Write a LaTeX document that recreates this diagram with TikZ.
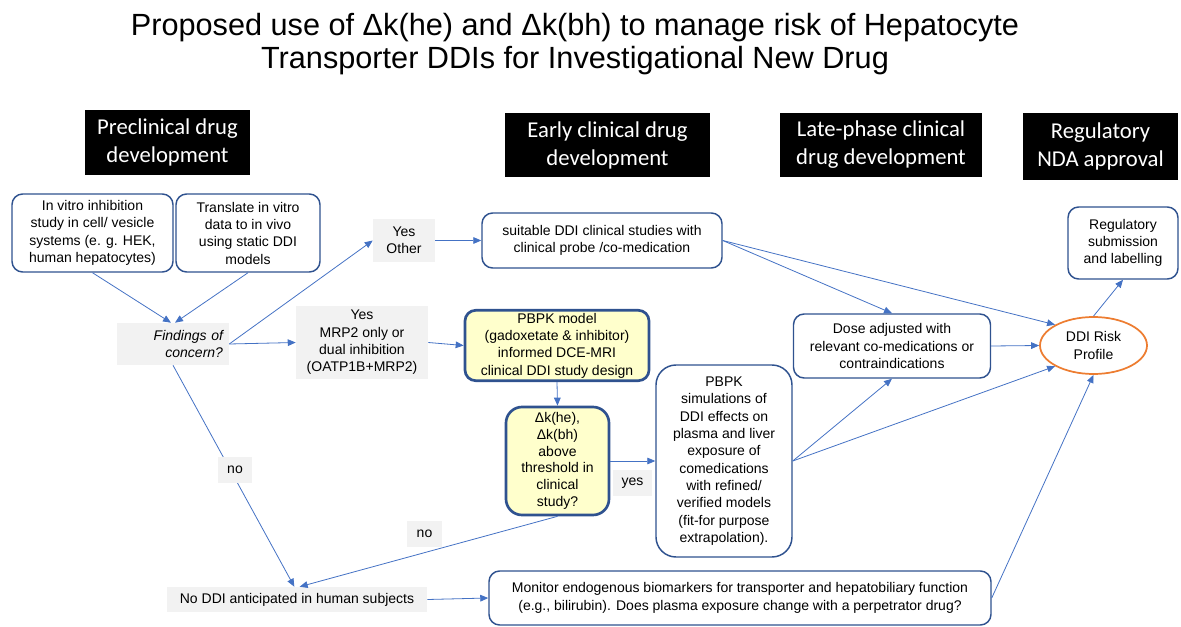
\documentclass[tikz,border=0pt]{standalone}
\usepackage{fontspec}
\setmainfont{Liberation Sans}
\newfontfamily\hdrfont{Carlito}
\usepackage{tikz}
\usetikzlibrary{arrows.meta, shapes.geometric}
\definecolor{boxblue}{RGB}{47,82,143}
\definecolor{linkblue}{RGB}{68,114,196}
\definecolor{notegray}{RGB}{242,242,242}
\definecolor{paleyellow}{RGB}{255,255,204}
\definecolor{riskorange}{RGB}{237,125,49}
\tikzset{
    box/.style={rectangle, rounded corners=8pt, draw=boxblue, line width=1.1pt, fill=white, align=center, inner sep=2pt, font=\fontsize{10.5}{13}\selectfont},
    keybox/.style={box, fill=paleyellow, line width=2pt},
    note/.style={rectangle, fill=notegray, align=center, inner sep=2pt, font=\fontsize{10.5}{13}\selectfont},
    phase/.style={rectangle, fill=black, text=white, align=center, inner sep=2pt, font=\hdrfont\fontsize{17}{21}\selectfont},
    arrow/.style={draw=linkblue, line width=0.6pt, -{Triangle[length=6pt, width=5pt]}}
}

\begin{document}
\begin{tikzpicture}[
    x=0.75pt, y=-0.75pt,
    risk/.style={ellipse, draw=riskorange, line width=1.3pt, fill=white, align=center, inner sep=0pt, font=\fontsize{10.5}{13}\selectfont}
]
    \useasboundingbox (0,0) rectangle (1181,627);

    % Title
    \node[align=center, font=\fontsize{23}{25}\selectfont] (title) at (575,44) {Proposed use of Δk(he) and Δk(bh) to manage risk of Hepatocyte\\Transporter DDIs for Investigational New Drug};

    % Phase headers
    \node[phase, minimum width=123.75pt, minimum height=48.75pt] (preclin) at (167.5,142.5) {Preclinical drug\\development};
    \node[phase, minimum width=153.75pt, minimum height=48pt] (early) at (607.5,145) {Early clinical drug\\development};
    \node[phase, minimum width=151.5pt, minimum height=48pt] (late) at (881,145) {Late-phase clinical\\drug development};
    \node[phase, minimum width=116.25pt, minimum height=50.25pt] (nda) at (1100.5,146.5) {Regulatory\\NDA approval};

    % Column 1: preclinical
    \node[box, minimum width=120.75pt, minimum height=58.5pt] (invitro) at (92.5,233) {In vitro inhibition\\study in cell/ vesicle\\systems (e. g. HEK,\\human hepatocytes)};
    \node[box, minimum width=108pt, minimum height=58.5pt] (translate) at (248,233) {Translate in vitro\\data to in vivo\\using static DDI\\models};
    \node[note, text width=75pt, inner xsep=4.5pt, minimum height=31.5pt, align=right, font=\fontsize{10.5}{13}\selectfont\itshape] (findings) at (173,344) {Findings of\\concern?};
    \node[note, minimum width=46.5pt, minimum height=32.25pt] (yesother) at (404,240.5) {Yes\\Other};
    \node[note, minimum width=99pt, minimum height=54.75pt] (yesmrp) at (362,342.5) {Yes\\MRP2 only or\\dual inhibition\\(OATP1B+MRP2)};
    \node[note, minimum width=195pt, minimum height=18.75pt] (noddi) at (297,599.5) {No DDI anticipated in human subjects};

    % Column 2: early clinical
    \node[box, minimum width=180pt, minimum height=41.25pt] (suitable) at (602,240.5) {suitable DDI clinical studies with\\clinical probe /co-medication};
    \node[keybox, minimum width=138pt, minimum height=50.25pt] (pbpkmodel) at (557,345.5) {PBPK model\\(gadoxetate \& inhibitor)\\informed DCE-MRI\\clinical DDI study design};
    \node[keybox, rounded corners=12pt, minimum width=77.25pt, minimum height=81pt, font=\fontsize{10.5}{12.5}\selectfont] (deltak) at (557.5,461) {Δk(he),\\Δk(bh)\\above\\threshold in\\clinical\\study?};
    \node[box, rounded corners=15pt, minimum width=102pt, minimum height=144pt] (pbpksim) at (724,461) {PBPK\\simulations of\\DDI effects on\\plasma and liver\\exposure of\\comedications\\with refined/\\verified models\\(fit-for purpose\\extrapolation).};
    \node[box, minimum width=376.5pt, minimum height=40.5pt] (monitor) at (740,598) {Monitor endogenous biomarkers for transporter and hepatobiliary function\\(e.g., bilirubin). Does plasma exposure change with a perpetrator drug?};

    % Column 3: late phase and approval
    \node[box, minimum width=147.75pt, minimum height=48pt] (dose) at (892,346) {Dose adjusted with\\relevant co-medications or\\contraindications};
    \node[risk, minimum width=80.25pt, minimum height=42.75pt] (ddirisk) at (1093.5,345.5) {DDI Risk\\Profile};
    \node[box, minimum width=82.5pt, minimum height=54pt] (regsub) at (1123,243) {Regulatory\\submission\\and labelling};

    % Main arrows
    \draw[arrow] (invitro.south) -- ([xshift=-1.5pt]findings.north);
    \draw[arrow] (translate.south) -- ([xshift=1.5pt]findings.north);
    \draw[arrow] (findings.east) -- (yesother.west);
    \draw[arrow] (findings.east) -- (yesmrp.west);
    \draw[arrow] (findings.south) -- ([xshift=-2pt]noddi.north);
    \draw[arrow] (yesother.east) -- (suitable.west);
    \draw[arrow] (yesmrp.east) -- (pbpkmodel.west);
    \draw[arrow] (pbpkmodel.south) -- (deltak.north);
    \draw[arrow] (deltak.east) -- (pbpksim.west);
    \draw[arrow] (deltak.south) -- ([xshift=2pt]noddi.north);
    \draw[arrow] (noddi.east) -- (monitor.west);

    % Cross-phase arrows
    \draw[arrow] (suitable.east) -- (dose.north);
    \draw[arrow] (suitable.east) -- (ddirisk.north west);
    \draw[arrow] (pbpksim.east) -- (dose.south);
    \draw[arrow] (pbpksim.east) -- (ddirisk.south west);
    \draw[arrow] (dose.east) -- (ddirisk.west);
    \draw[arrow] (monitor.east) -- (ddirisk.south);
    \draw[arrow] (ddirisk.north) -- (regsub.south);

    % Branch labels
    \node[note, minimum width=25.5pt, minimum height=19.5pt] (nofind) at (235,470) {no};
    \node[note, minimum width=26.25pt, minimum height=19.5pt] (nostudy) at (424.5,534) {no};
    \node[note, minimum width=29.25pt, minimum height=19.5pt] (yesstudy) at (632.5,483) {yes};

\end{tikzpicture}
\end{document}
